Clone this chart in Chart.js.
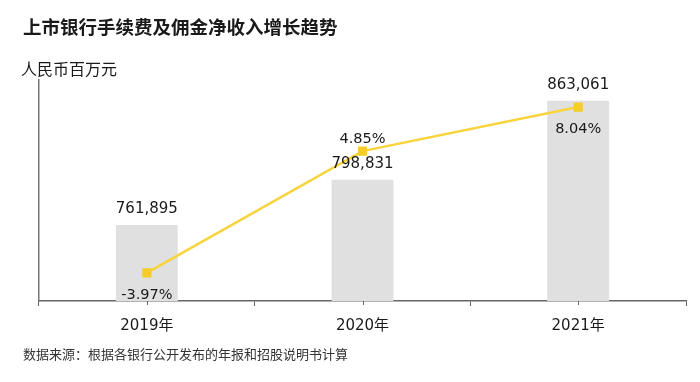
<!DOCTYPE html>
<html>
<head>
<meta charset="utf-8">
<script src="https://cdn.jsdelivr.net/npm/chart.js@4.4.0/dist/chart.umd.min.js"></script>
<style>
  html, body { margin: 0; padding: 0; background: #fff; }
  #wrap { position: relative; width: 700px; height: 382px; overflow: hidden; }
  #wrap canvas { position: absolute; left: 0; top: 0; }
  .txt { position: absolute; white-space: nowrap; color: #1a1a1a; font-family: "Noto Sans CJK SC", "DejaVu Sans", sans-serif; }
  #title { left: 23px; top: 13px; font-size: 18.5px; font-weight: bold; line-height: 26px; }
  #unit { left: 21px; top: 57px; font-size: 16px; line-height: 22px; }
  #source { left: 23px; top: 345px; font-size: 13px; line-height: 18px; color: #333; }
</style>
</head>
<body>
<div id="wrap">
  <canvas id="grafica" width="700" height="382"></canvas>
  <div class="txt" id="title">上市银行手续费及佣金净收入增长趋势</div>
  <div class="txt" id="unit">人民币百万元</div>
  <div class="txt" id="source">数据来源：根据各银行公开发布的年报和招股说明书计算</div>
</div>
<script>
// Datos
const anios = ['2019年', '2020年', '2021年'];
const ingresos = [761895, 798831, 863061];
const crecimiento = [-3.97, 4.85, 8.04];
const posEtiquetaPct = ['bottom', 'top', 'bottom'];

// Etiquetas sobre barras y puntos
const etiquetas = {
    id: 'etiquetas',
    afterDatasetsDraw(chart) {
        const ctx = chart.ctx;
        ctx.save();
        ctx.fillStyle = '#1a1a1a';
        ctx.textAlign = 'center';
        ctx.textBaseline = 'middle';

        // dataset 1 = barras, dataset 0 = línea
        const barras = chart.getDatasetMeta(1).data;
        ctx.font = '15px "DejaVu Sans", sans-serif';
        barras.forEach((b, i) => {
            ctx.fillText(ingresos[i].toLocaleString('en-US'), b.x, b.y - 16);
        });

        const puntos = chart.getDatasetMeta(0).data;
        ctx.font = '14.5px "DejaVu Sans", sans-serif';
        puntos.forEach((p, i) => {
            const dy = posEtiquetaPct[i] === 'top' ? -12 : 22;
            ctx.fillText(crecimiento[i].toFixed(2) + '%', p.x, p.y + dy);
        });

        // marcas pequeñas en el centro de cada categoría
        const x = chart.scales.x;
        ctx.strokeStyle = '#666';
        ctx.lineWidth = 1;
        anios.forEach((a, i) => {
            const px = Math.round(x.getPixelForValue(i)) + 0.5;
            ctx.beginPath();
            ctx.moveTo(px, chart.chartArea.bottom);
            ctx.lineTo(px, chart.chartArea.bottom + 4);
            ctx.stroke();
        });
        ctx.restore();
    }
};

const ctxIngresos = document.getElementById('grafica').getContext('2d');
new Chart(ctxIngresos, {
    data: {
        labels: anios,
        datasets: [
            {
                type: 'line',
                label: '增长率',
                data: crecimiento,
                yAxisID: 'y1',
                borderColor: '#f8d43c',
                backgroundColor: '#f7cb2a',
                borderWidth: 2.5,
                pointStyle: 'rect',
                pointRadius: 6.5,
                pointBorderWidth: 0,
                tension: 0,
                order: 0
            },
            {
                type: 'bar',
                label: '手续费及佣金净收入',
                data: ingresos,
                yAxisID: 'y',
                backgroundColor: '#e0e0e0',
                barPercentage: 0.287,
                categoryPercentage: 1,
                order: 1
            }
        ]
    },
    plugins: [etiquetas],
    options: {
        responsive: false,
        animation: false,
        layout: {
            padding: { left: 39, right: 14, top: 80, bottom: 36 }
        },
        plugins: {
            legend: { display: false },
            tooltip: { enabled: false }
        },
        scales: {
            x: {
                offset: true,
                grid: {
                    display: true,
                    drawOnChartArea: false,
                    offset: true,
                    tickLength: 5,
                    color: '#666'
                },
                border: { display: true, color: '#666', width: 1.5 },
                ticks: {
                    color: '#1a1a1a',
                    padding: 11,
                    font: { family: '"DejaVu Sans", "Noto Sans CJK SC", sans-serif', size: 15 }
                }
            },
            y: {
                position: 'left',
                min: 700000,
                max: 880000,
                grid: { display: false, drawTicks: false },
                border: { display: true, color: '#777', width: 1.5 },
                ticks: { display: false }
            },
            y1: {
                position: 'right',
                display: false,
                min: -6,
                max: 10
            }
        }
    }
});
</script>
</body>
</html>
